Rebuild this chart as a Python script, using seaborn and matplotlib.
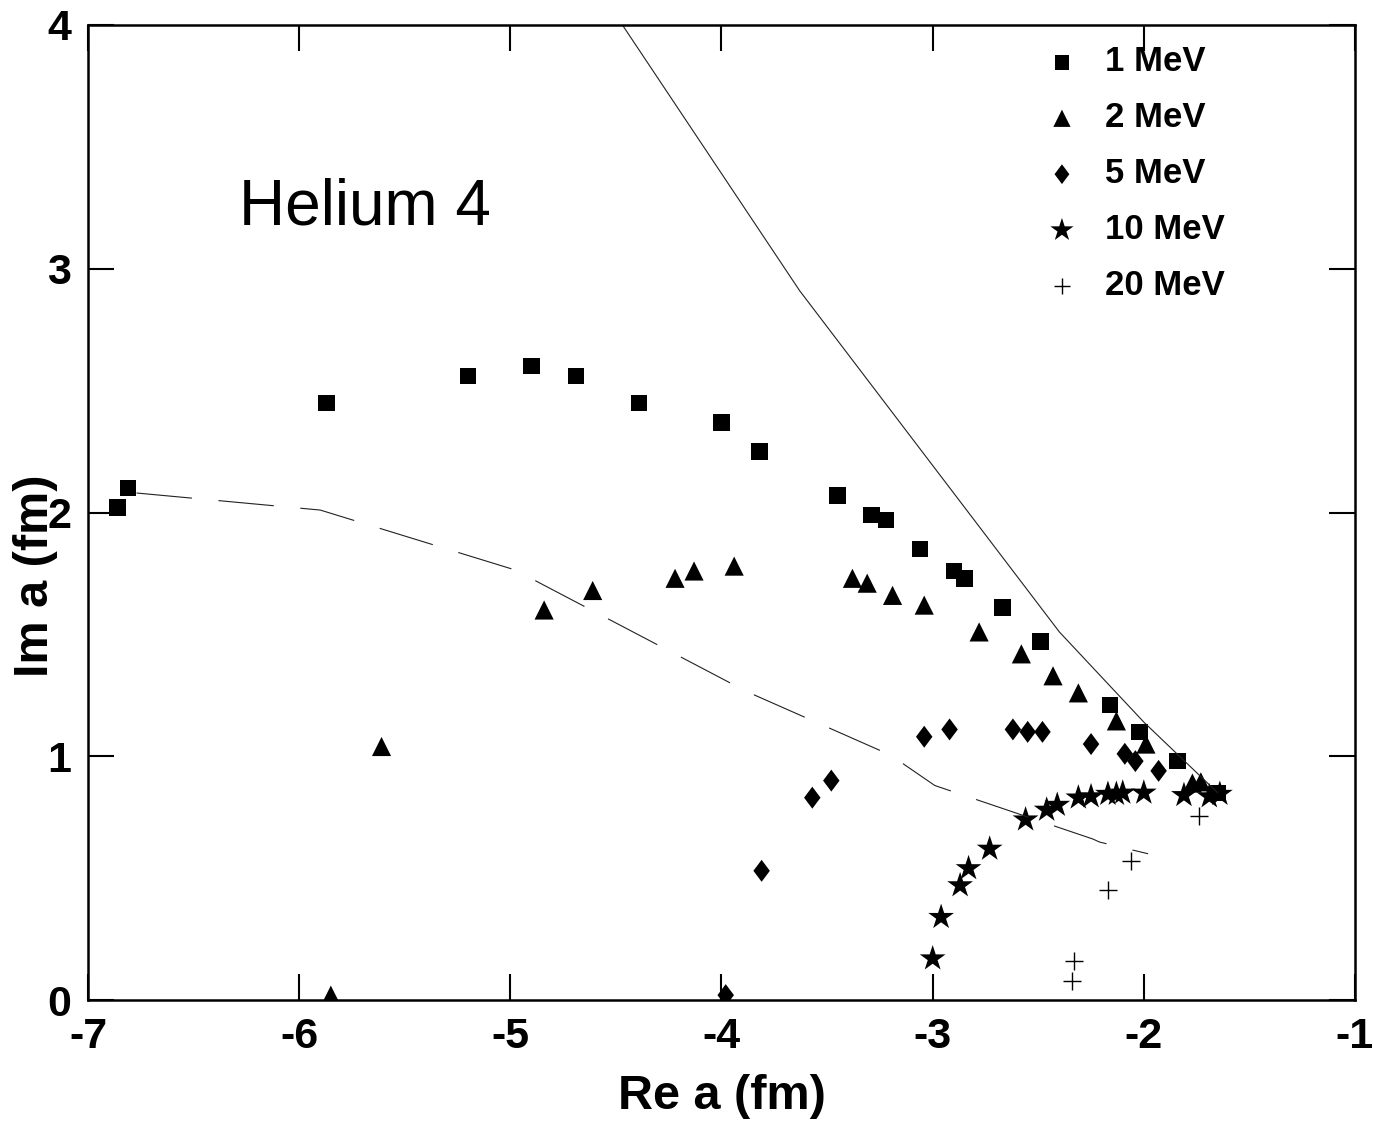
import numpy as np
import pandas as pd
import matplotlib
matplotlib.use("Agg")
import matplotlib.pyplot as plt
from matplotlib.path import Path
import seaborn as sns

# Theme
sns.set_theme(style="ticks")
plt.rcParams['font.family'] = ['Liberation Sans', 'DejaVu Sans']
plt.rcParams['axes.unicode_minus'] = False
plt.rcParams['text.color'] = 'black'
plt.rcParams['axes.labelcolor'] = 'black'
plt.rcParams['xtick.color'] = 'black'
plt.rcParams['ytick.color'] = 'black'

# 1 MeV
sq_x = [-6.86, -6.81, -5.87, -5.20, -4.90, -4.69, -4.39, -4.00, -3.82, -3.45, -3.29,
        -3.22, -3.06, -2.90, -2.85, -2.67, -2.49, -2.16, -2.02, -1.84, -1.65]
sq_y = [2.02, 2.10, 2.45, 2.56, 2.60, 2.56, 2.45, 2.37, 2.25, 2.07, 1.99,
        1.97, 1.85, 1.76, 1.73, 1.61, 1.47, 1.21, 1.10, 0.98, 0.85]

# 2 MeV
tri_x = [-5.85, -5.61, -4.84, -4.61, -4.22, -4.13, -3.94, -3.38, -3.31, -3.19,
         -3.04, -2.78, -2.58, -2.43, -2.31, -2.13, -1.99, -1.77, -1.73]
tri_y = [0.02, 1.04, 1.60, 1.68, 1.73, 1.76, 1.78, 1.73, 1.71, 1.66,
         1.62, 1.51, 1.42, 1.33, 1.26, 1.145, 1.05, 0.89, 0.895]

# 5 MeV
dia_x = [-3.98, -3.81, -3.57, -3.48, -3.04, -2.92, -2.62, -2.55, -2.48, -2.25, -2.09, -2.04, -1.93]
dia_y = [0.02, 0.53, 0.83, 0.90, 1.08, 1.11, 1.11, 1.10, 1.10, 1.05, 1.01, 0.98, 0.94]

# 10 MeV
star_x = [-3.00, -2.96, -2.87, -2.83, -2.73, -2.56, -2.46, -2.41, -2.31, -2.25,
          -2.17, -2.13, -2.10, -2.00, -1.81, -1.69, -1.64]
star_y = [0.17, 0.34, 0.47, 0.54, 0.62, 0.74, 0.78, 0.80, 0.83, 0.835,
          0.845, 0.845, 0.85, 0.85, 0.84, 0.835, 0.845]

# 20 MeV
plus_x = [-2.34, -2.33, -2.17, -2.06, -1.74]
plus_y = [0.08, 0.16, 0.45, 0.57, 0.755]

# curves
solid_x = [-4.6, -3.63, -2.4, -2.0, -1.65]
solid_y = [4.17, 2.91, 1.51, 1.14, 0.85]
dash_x = [-6.77, -5.90, -4.98, -3.88, -3.20, -2.99, -2.24, -2.21, -1.98]
dash_y = [2.08, 2.01, 1.765, 1.265, 1.005, 0.88, 0.66, 0.648, 0.60]

labels = ["1 MeV", "2 MeV", "5 MeV", "10 MeV", "20 MeV"]
xticks = [-7, -6, -5, -4, -3, -2, -1]
yticks = [0, 1, 2, 3, 4]

# tall diamond marker
diamond = Path([(0, 1), (0.75, 0), (0, -1), (-0.75, 0), (0, 1)],
               [Path.MOVETO, Path.LINETO, Path.LINETO, Path.LINETO, Path.CLOSEPOLY])

fig = plt.figure(figsize=(13.73, 11.24), dpi=100)
ax = fig.add_axes([88 / 1373, 1 - 1000 / 1124, 1267 / 1373, 975 / 1124])

sns.lineplot(x=solid_x, y=solid_y, color="#222222", lw=0.8, sort=False, estimator=None, ax=ax)
sns.lineplot(x=dash_x, y=dash_y, color="#222222", lw=0.8, sort=False, estimator=None,
             linestyle=(0, (50, 24)), ax=ax)

series = [
    (sq_x, sq_y, "s", 140, labels[0]),
    (tri_x, tri_y, "^", 190, labels[1]),
    (dia_x, dia_y, diamond, 250, labels[2]),
    (star_x, star_y, "*", 380, labels[3]),
    (plus_x, plus_y, "+", 160, labels[4]),
]
for xs, ys, mk, sz, lab in series:
    df = pd.DataFrame({"x": xs, "y": ys})
    if mk == "+":
        sns.scatterplot(data=df, x="x", y="y", marker=mk, s=sz, color="black",
                        linewidth=1.0, label=lab, ax=ax)
    else:
        sns.scatterplot(data=df, x="x", y="y", marker=mk, s=sz, color="black",
                        edgecolor="none", linewidth=0, label=lab, ax=ax)

ax.set_xlim(-7, -1)
ax.set_ylim(0, 4)
ax.set_xticks(xticks)
ax.set_yticks(yticks)
ax.tick_params(direction="in", length=19, width=1.5, top=True, right=True,
               labelsize=31, pad=12)
for t in ax.get_xticklabels() + ax.get_yticklabels():
    t.set_fontweight("bold")
for sp in ax.spines.values():
    sp.set_linewidth(1.8)
    sp.set_color("black")

ax.set_xlabel("Re a (fm)", fontsize=35, fontweight="bold")
ax.set_ylabel("Im a (fm)", fontsize=35, fontweight="bold")
ax.xaxis.set_label_coords(0.5, -0.076)
ax.yaxis.set_label_coords(-0.024, 0.435)

ax.text(-5.69, 3.25, "Helium 4", fontsize=46, ha="center", va="center", color="black")

leg = ax.legend(loc="upper left", bbox_to_anchor=(0.755, 0.979), frameon=False,
                prop={"weight": "bold", "size": 25}, markerscale=0.9,
                handlelength=1.0, handletextpad=0.75, labelspacing=0.66,
                borderpad=0, borderaxespad=0)

fig.savefig("out.png", dpi=100)
